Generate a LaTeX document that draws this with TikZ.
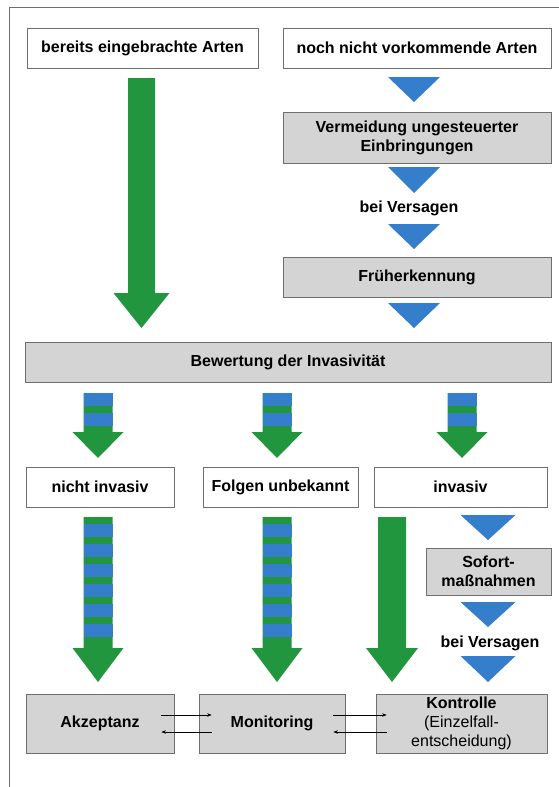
\documentclass[tikz,border=0pt]{standalone}
\usepackage{fontspec}
\setmainfont{Liberation Sans}
\usetikzlibrary{arrows.meta}
\definecolor{arrgreen}{RGB}{34,150,62}
\definecolor{arrblue}{RGB}{52,126,204}
\definecolor{boxgray}{RGB}{212,212,212}
\definecolor{edgegray}{RGB}{110,110,110}
\newcommand\greenarrow[6]{% cx, ytop, yhead, ytip, shaft half width, head half width
  \fill[arrgreen] (#1-#5,#2) -- (#1+#5,#2) -- (#1+#5,#3) -- (#1+#6,#3) -- (#1,#4)
    -- (#1-#6,#3) -- (#1-#5,#3) -- cycle;}
\newcommand\bluetri[4]{% cx, ytop, ytip, half width
  \fill[arrblue] (#1-#4,#2) -- (#1+#4,#2) -- (#1,#3) -- cycle;}
\begin{document}
\begin{tikzpicture}[x=1pt,y=-1pt,
  txt/.style={font=\fontsize{16}{19}\selectfont\bfseries,align=center},
  wbox/.style={txt,draw=edgegray,line width=0.8pt,fill=white,minimum height=40pt,inner sep=0pt},
  gbox/.style={wbox,fill=boxgray},
  lbl/.style={txt,inner sep=0pt},
  small/.style={-{Stealth[length=4.5pt,width=3.5pt]},line width=0.5pt,black}]
\useasboundingbox (0,0) rectangle (559,787);
\fill[white] (0,0) rectangle (559,787);
% frame
\draw[edgegray,line width=1pt] (559,7) -- (9,7) -- (9,787);

% boxes
\node[wbox,minimum width=231pt] (b1) at (142.5,48) {bereits eingebrachte Arten};
\node[wbox,minimum width=268pt] (b2) at (417,48) {noch nicht vorkommende Arten};
\node[gbox,minimum width=268pt,minimum height=51pt] (verm) at (417,137.5) {Vermeidung ungesteuerter\\Einbringungen};
\node[lbl] (bv1) at (409,208) {bei Versagen};
\node[gbox,minimum width=268pt] (frueh) at (417,277) {Früherkennung};
\node[gbox,minimum width=526pt] (bew) at (288,362) {Bewertung der Invasivität};
\node[wbox,minimum width=148pt] (nicht) at (100,487) {nicht invasiv};
\node[wbox,minimum width=155pt] (folgen) at (280.5,487) {Folgen unbekannt};
\node[wbox,minimum width=173pt] (inv) at (460.5,487) {invasiv};
\node[gbox,minimum width=125pt,minimum height=47pt] (sofort) at (488.5,571.5) {Sofort-\\maßnahmen};
\node[lbl] (bv2) at (490,643) {bei Versagen};
\node[gbox,minimum width=148pt,minimum height=59pt] (akz) at (100,723.5) {Akzeptanz};
\node[gbox,minimum width=146pt,minimum height=59pt] (mon) at (272,723.5) {Monitoring};
\node[gbox,minimum width=171pt,minimum height=59pt,font=\fontsize{16}{19}\selectfont\mdseries] (kon) at (461.5,723.5) {{\bfseries Kontrolle}\\(Einzelfall-\\entscheidung)};

% blue triangles, right column
\bluetri{414}{77}{102}{26}
\bluetri{414}{167}{193}{26}
\bluetri{414}{224}{249}{26}
\bluetri{414}{303}{328}{26}
% blue triangles, lower right
\bluetri{488}{515}{540}{27.5}
\bluetri{488}{602}{627}{27.5}
\bluetri{488}{656}{682}{27.5}

% big green arrow, left
\greenarrow{141.5}{78}{293}{328}{13.5}{28}

% upper striped arrows
\foreach \cx in {98,277,462}{
  \greenarrow{\cx}{393}{432}{458}{14.5}{25.5}
  \fill[arrblue] (\cx-14.5,393) rectangle (\cx+14.5,406);
  \fill[arrblue] (\cx-14.5,413) rectangle (\cx+14.5,426);
}
% lower striped arrows
\foreach \cx in {98,277}{
  \greenarrow{\cx}{517}{648}{682}{14.5}{25.5}
  \foreach \yy in {524,544,...,624}{
    \fill[arrblue] (\cx-14.5,\yy) rectangle (\cx+14.5,\yy+13);
  }
}
% lower solid arrow
\greenarrow{392}{517}{648}{682}{14}{26}

% small arrows between bottom boxes
\draw[small] ([xshift=-13pt,yshift=8.5pt]akz.east) -- ([xshift=13pt,yshift=8.5pt]mon.west);
\draw[small] ([xshift=13pt,yshift=-8.5pt]mon.west) -- ([xshift=-13pt,yshift=-8.5pt]akz.east);
\draw[small] ([xshift=-12pt,yshift=8.5pt]mon.east) -- ([xshift=11pt,yshift=8.5pt]kon.west);
\draw[small] ([xshift=11pt,yshift=-8.5pt]kon.west) -- ([xshift=-12pt,yshift=-8.5pt]mon.east);
\end{tikzpicture}
\end{document}
